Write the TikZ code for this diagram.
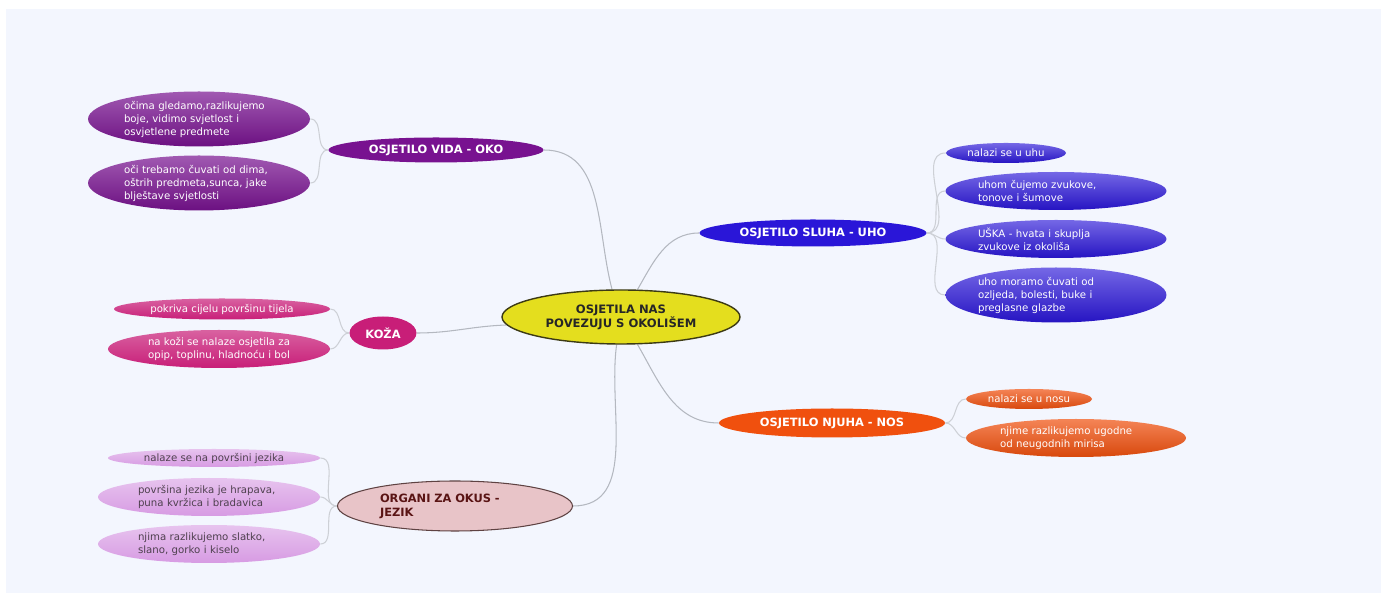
\documentclass[tikz,border=0pt]{standalone}
\usepackage{fontspec}
\setmainfont{DejaVu Sans}
\usetikzlibrary{shapes.geometric, backgrounds}
\definecolor{bgblue}{HTML}{F3F6FE}
\definecolor{linkgray}{HTML}{B4B8C0}
\definecolor{leafgray}{HTML}{CDD0D6}
\definecolor{yellowroot}{HTML}{E4DE1E}
\definecolor{rootline}{HTML}{3C3A14}
\definecolor{purple}{HTML}{781290}
\definecolor{magenta}{HTML}{C81E78}
\definecolor{rose}{HTML}{E8C4C8}
\definecolor{roseline}{HTML}{5E4242}
\definecolor{rosetext}{HTML}{5A1414}
\definecolor{lilac}{HTML}{D79BE3}
\definecolor{lilactext}{HTML}{4E404E}
\definecolor{blue}{HTML}{2A16D8}
\definecolor{orange}{HTML}{F0500E}
\newcommand\leaffont{\fontsize{5.8}{7.4}\selectfont}
\newcommand\branchfont{\fontsize{6.5}{8}\selectfont\bfseries}
\tikzset{
  link/.style={draw=linkgray, line width=0.6pt},
  leaflink/.style={draw=leafgray, line width=0.6pt},
  bubble/.style={ellipse, inner sep=0pt},
  branch/.style={bubble, font=\branchfont, text=white},
  leaf/.style={bubble, font=\leaffont, text=white, align=left},
  purpleleaf/.style={leaf, top color=purple!70!white, bottom color=purple!90!black},
  magentaleaf/.style={leaf, align=center, top color=magenta!70!white, bottom color=magenta},
  lilacleaf/.style={leaf, text=lilactext, top color=lilac!60!white, bottom color=lilac},
  blueleaf/.style={leaf, top color=blue!65!white, bottom color=blue!90!black},
  orangeleaf/.style={leaf, top color=orange!70!white, bottom color=orange!90!black},
}
\begin{document}
\begin{tikzpicture}[x=0.02cm, y=0.02cm]
  \useasboundingbox (0,0) rectangle (1381,597);
  \begin{pgfonlayer}{background}
    \fill[bgblue] (6,4) rectangle (1381,588);
  \end{pgfonlayer}

  % centre
  \node[bubble, fill=yellowroot, draw=rootline, line width=0.8pt, font=\fontsize{6.6}{8}\selectfont\bfseries,
    text=black!85, align=center, minimum width=4.76cm, minimum height=1.08cm] (root) at (621,280)
    {OSJETILA NAS\\POVEZUJU S OKOLIŠEM};

  % vid
  \node[branch, fill=purple, minimum width=4.3cm, minimum height=0.5cm] (vida) at (436,447) {OSJETILO VIDA - OKO};
  \node[purpleleaf, text width=3cm, minimum width=4.44cm, minimum height=1.1cm] (vida1) at (199,478)
    {očima gledamo,razlikujemo\\boje, vidimo svjetlost i\\osvjetlene predmete};
  \node[purpleleaf, text width=3cm, minimum width=4.44cm, minimum height=1.1cm] (vida2) at (199,414)
    {oči trebamo čuvati od dima,\\oštrih predmeta,sunca, jake\\blještave svjetlosti};

  % koza
  \node[branch, fill=magenta, minimum width=1.34cm, minimum height=0.66cm] (koza) at (383,264) {KOŽA};
  \node[magentaleaf, minimum width=4.32cm, minimum height=0.42cm] (koza1) at (222,288)
    {pokriva cijelu površinu tijela};
  \node[magentaleaf, minimum width=4.44cm, minimum height=0.76cm] (koza2) at (219,248)
    {na koži se nalaze osjetila za\\opip, toplinu, hladnoću i bol};

  % okus
  \node[branch, fill=rose, draw=roseline, line width=0.6pt, text=rosetext, align=left, text width=3cm,
    minimum width=4.7cm, minimum height=1cm] (okus) at (455,91) {ORGANI ZA OKUS -\\JEZIK};
  \node[lilacleaf, align=center, minimum width=4.24cm, minimum height=0.36cm] (okus1) at (214,139)
    {nalaze se na površini jezika};
  \node[lilacleaf, text width=2.84cm, minimum width=4.44cm, minimum height=0.76cm] (okus2) at (209,100)
    {površina jezika je hrapava,\\puna kvržica i bradavica};
  \node[lilacleaf, text width=2.84cm, minimum width=4.44cm, minimum height=0.76cm] (okus3) at (209,53)
    {njima razlikujemo slatko,\\slano, gorko i kiselo};

  % sluh
  \node[branch, fill=blue, minimum width=4.54cm, minimum height=0.54cm] (sluh) at (813,364) {OSJETILO SLUHA - UHO};
  \node[blueleaf, align=center, minimum width=2.4cm, minimum height=0.4cm] (sluh1) at (1006,444)
    {nalazi se u uhu};
  \node[blueleaf, text width=3.12cm, minimum width=4.42cm, minimum height=0.76cm] (sluh2) at (1056,406)
    {uhom čujemo zvukove,\\tonove i šumove};
  \node[blueleaf, text width=3.12cm, minimum width=4.42cm, minimum height=0.76cm] (sluh3) at (1056,358)
    {UŠKA - hvata i skuplja\\zvukove iz okoliša};
  \node[blueleaf, text width=3.12cm, minimum width=4.42cm, minimum height=1.1cm] (sluh4) at (1056,302)
    {uho moramo čuvati od\\ozljeda, bolesti, buke i\\preglasne glazbe};

  % njuh
  \node[branch, fill=orange, minimum width=4.52cm, minimum height=0.58cm] (njuh) at (832,174) {OSJETILO NJUHA - NOS};
  \node[orangeleaf, align=center, minimum width=2.52cm, minimum height=0.4cm] (njuh1) at (1029,198)
    {nalazi se u nosu};
  \node[orangeleaf, text width=3.04cm, minimum width=4.4cm, minimum height=0.76cm] (njuh2) at (1076,159)
    {njime razlikujemo ugodne\\od neugodnih mirisa};

  \begin{pgfonlayer}{background}
    \draw[link] (vida.east) to[out=0, in=105] (root.108);
    \draw[link] (sluh.west) to[out=180, in=60] (root.59);
    \draw[link] (koza.east) to[out=0, in=182] (root.184);
    \draw[link] (okus.east) to[out=0, in=262] (root.261);
    \draw[link] (njuh.west) to[out=180, in=300] (root.301);
    \foreach \from/\to in {vida/vida1, vida/vida2, koza/koza1, koza/koza2, okus/okus1, okus/okus2, okus/okus3}
      \draw[leaflink] (\from.west) to[out=180, in=0] (\to.east);
    \foreach \from/\to in {sluh/sluh1, sluh/sluh2, sluh/sluh3, sluh/sluh4, njuh/njuh1, njuh/njuh2}
      \draw[leaflink] (\from.east) to[out=0, in=180] (\to.west);
  \end{pgfonlayer}
\end{tikzpicture}
\end{document}
